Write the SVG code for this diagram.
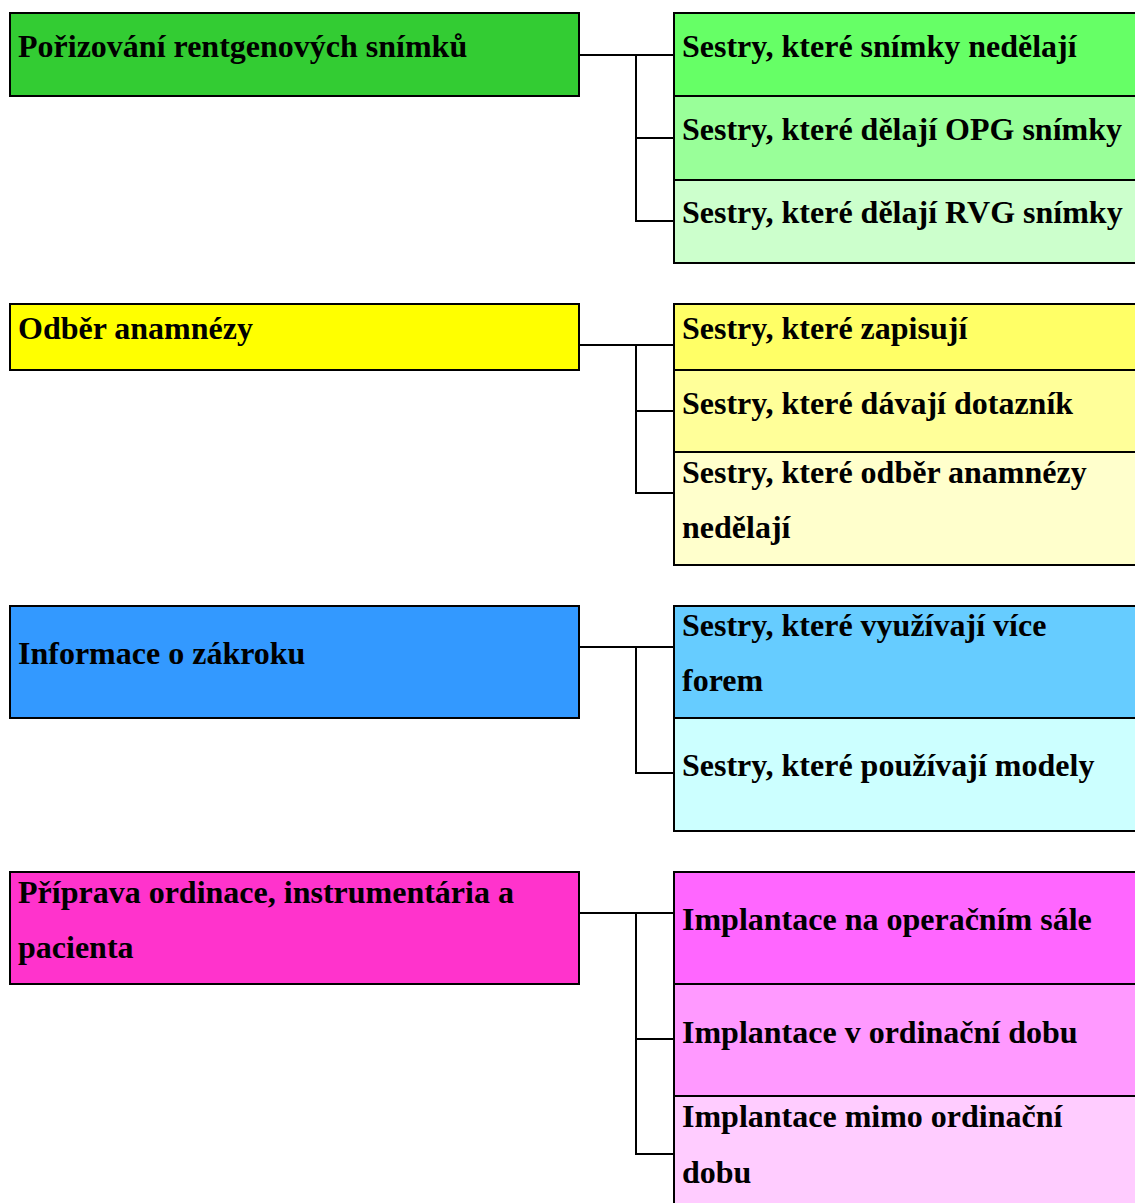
<svg xmlns="http://www.w3.org/2000/svg" width="1135" height="1203" viewBox="0 0 1135 1203">
<style>
rect{stroke:#000;stroke-width:2}
text{font-family:"Liberation Serif","Times New Roman",serif;font-weight:bold;font-size:32px;fill:#000}
.c{fill:none;stroke:#000;stroke-width:2}
</style>
<rect x="0" y="0" width="1135" height="1203" fill="#fff" style="stroke:none"/>
<g id="connectors">
<path class="c" d="M579 55H674M636 55V221H674M636 138H674"/>
<path class="c" d="M579 345H674M636 345V493H674M636 411H674"/>
<path class="c" d="M579 647H674M636 647V773H674"/>
<path class="c" d="M579 913H674M636 913V1154H674M636 1039H674"/>
</g>
<g id="n1"><rect x="10" y="13" width="569" height="83" fill="#33CC33"/><text x="18" y="57">Pořizování rentgenových snímků</text></g>
<g id="n1a"><rect x="674" y="13" width="470" height="83" fill="#66FF66"/><text x="682" y="57">Sestry, které snímky nedělají</text></g>
<g id="n1b"><rect x="674" y="96" width="470" height="84" fill="#99FF99"/><text x="682" y="140">Sestry, které dělají OPG snímky</text></g>
<g id="n1c"><rect x="674" y="180" width="470" height="83" fill="#CCFFCC"/><text x="682" y="223">Sestry, které dělají RVG snímky</text></g>
<g id="n2"><rect x="10" y="304" width="569" height="66" fill="#FFFF00"/><text x="18" y="339">Odběr anamnézy</text></g>
<g id="n2a"><rect x="674" y="304" width="470" height="66" fill="#FFFF66"/><text x="682" y="339">Sestry, které zapisují</text></g>
<g id="n2b"><rect x="674" y="370" width="470" height="82" fill="#FFFF99"/><text x="682" y="414">Sestry, které dávají dotazník</text></g>
<g id="n2c"><rect x="674" y="452" width="470" height="113" fill="#FFFFCC"/><text x="682" y="483">Sestry, které odběr anamnézy</text><text x="682" y="538">nedělají</text></g>
<g id="n3"><rect x="10" y="606" width="569" height="112" fill="#3399FF"/><text x="18" y="664">Informace o zákroku</text></g>
<g id="n3a"><rect x="674" y="606" width="470" height="112" fill="#66CCFF"/><text x="682" y="636">Sestry, které využívají více</text><text x="682" y="691">forem</text></g>
<g id="n3b"><rect x="674" y="718" width="470" height="113" fill="#CCFFFF"/><text x="682" y="776">Sestry, které používají modely</text></g>
<g id="n4"><rect x="10" y="872" width="569" height="112" fill="#FF33CC"/><text x="18" y="903">Příprava ordinace, instrumentária a</text><text x="18" y="958">pacienta</text></g>
<g id="n4a"><rect x="674" y="872" width="470" height="112" fill="#FF66FF"/><text x="682" y="930">Implantace na operačním sále</text></g>
<g id="n4b"><rect x="674" y="984" width="470" height="112" fill="#FF99FF"/><text x="682" y="1043">Implantace v ordinační dobu</text></g>
<g id="n4c"><rect x="674" y="1096" width="470" height="120" fill="#FFCCFF"/><text x="682" y="1127">Implantace mimo ordinační</text><text x="682" y="1183">dobu</text></g>
</svg>
